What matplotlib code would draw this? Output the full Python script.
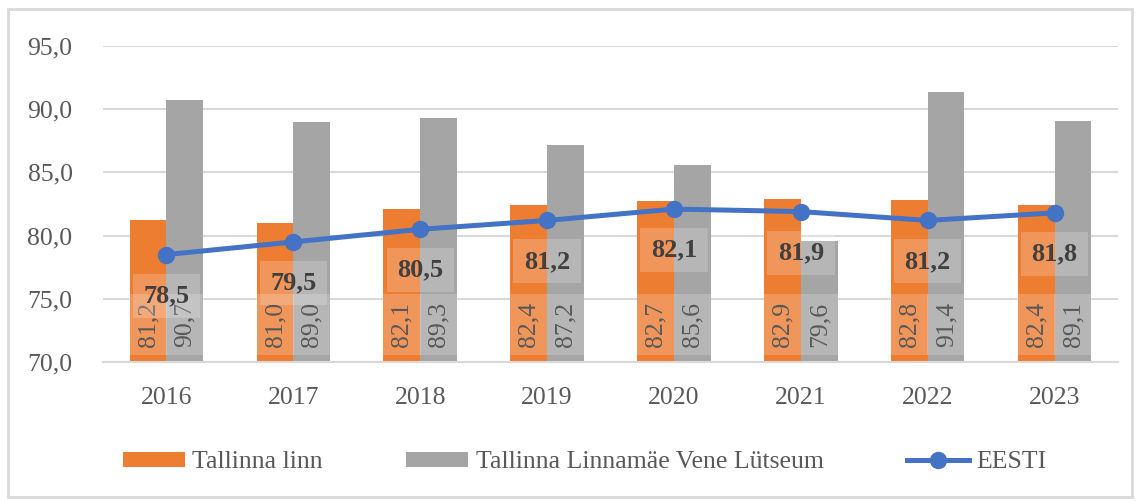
import matplotlib.pyplot as plt
import numpy as np

# andmed
aastad = ['2016', '2017', '2018', '2019', '2020', '2021', '2022', '2023']
tallinn = [81.2, 81.0, 82.1, 82.4, 82.7, 82.9, 82.8, 82.4]
lutseum = [90.7, 89.0, 89.3, 87.2, 85.6, 79.6, 91.4, 89.1]
eesti = [78.5, 79.5, 80.5, 81.2, 82.1, 81.9, 81.2, 81.8]

def koma(v):
    return f"{v:.1f}".replace('.', ',')

plt.rcParams['font.family'] = ['Liberation Serif', 'DejaVu Serif']

fig = plt.figure(figsize=(11.4, 5.01), dpi=100)
ax = fig.add_axes([0.0904, 0.2774, 0.8903, 0.6308])

x = np.arange(len(aastad))
w = 0.29
oranz = '#ED7D31'
hall = '#A5A5A5'
sinine = '#4472C4'
tekst = '#595959'

b1 = ax.bar(x - w / 2, [v - 70 for v in tallinn], w, bottom=70, color=oranz, zorder=2,
            label='Tallinna linn')
b2 = ax.bar(x + w / 2, [v - 70 for v in lutseum], w, bottom=70, color=hall, zorder=2,
            label='Tallinna Linnamäe Vene Lütseum')
ln, = ax.plot(x, eesti, color=sinine, lw=3.6, marker='o', ms=11.5, zorder=4, label='EESTI')

# tulpade sildid (pööratud)
for xi, a, b in zip(x, tallinn, lutseum):
    for xx, v in ((xi - w / 2, a), (xi + w / 2, b)):
        ax.text(xx, 71.2, koma(v), rotation=90, ha='center', va='bottom', fontsize=18.5,
                color=tekst, zorder=5,
                bbox=dict(boxstyle='square,pad=0.3', fc='white', ec='none', alpha=0.2))

# joone sildid
for xi, v in zip(x, eesti):
    ax.annotate(koma(v), (xi, v), xytext=(0, -41), textcoords='offset pixels',
                ha='center', va='center', fontsize=19, fontweight='bold', color='#404040',
                zorder=6,
                bbox=dict(boxstyle='square,pad=0.4', fc='white', ec='none', alpha=0.2))

ax.set_ylim(70, 95)
ax.set_xlim(-0.5, len(aastad) - 0.5)
ax.set_yticks(np.arange(70, 96, 5))
ax.set_yticklabels([koma(v) for v in np.arange(70, 96, 5)])
ax.set_xticks(x)
ax.set_xticklabels(aastad)
ax.tick_params(axis='both', length=0, labelsize=18.5, labelcolor=tekst)
ax.tick_params(axis='y', pad=22)
ax.tick_params(axis='x', pad=18)
ax.grid(axis='y', color='#D9D9D9', lw=1.5, zorder=0)
ax.set_axisbelow(True)
for s in ['top', 'right', 'left']:
    ax.spines[s].set_visible(False)
ax.spines['bottom'].set_color('#D9D9D9')
ax.spines['bottom'].set_linewidth(1.5)

leg = fig.legend(handles=[b1, b2, ln], loc='center', bbox_to_anchor=(0.513, 0.077), ncol=3,
                 frameon=False, fontsize=18.5, handlelength=2.4, handleheight=0.5,
                 handletextpad=0.3, columnspacing=3.25, labelcolor=tekst)

# raam ümber joonise
fig.patches.append(plt.Rectangle((0.007, 0.008), 0.986, 0.975, transform=fig.transFigure,
                                 fill=False, ec='#D9D9D9', lw=2))

fig.savefig('out.png', dpi=100)
